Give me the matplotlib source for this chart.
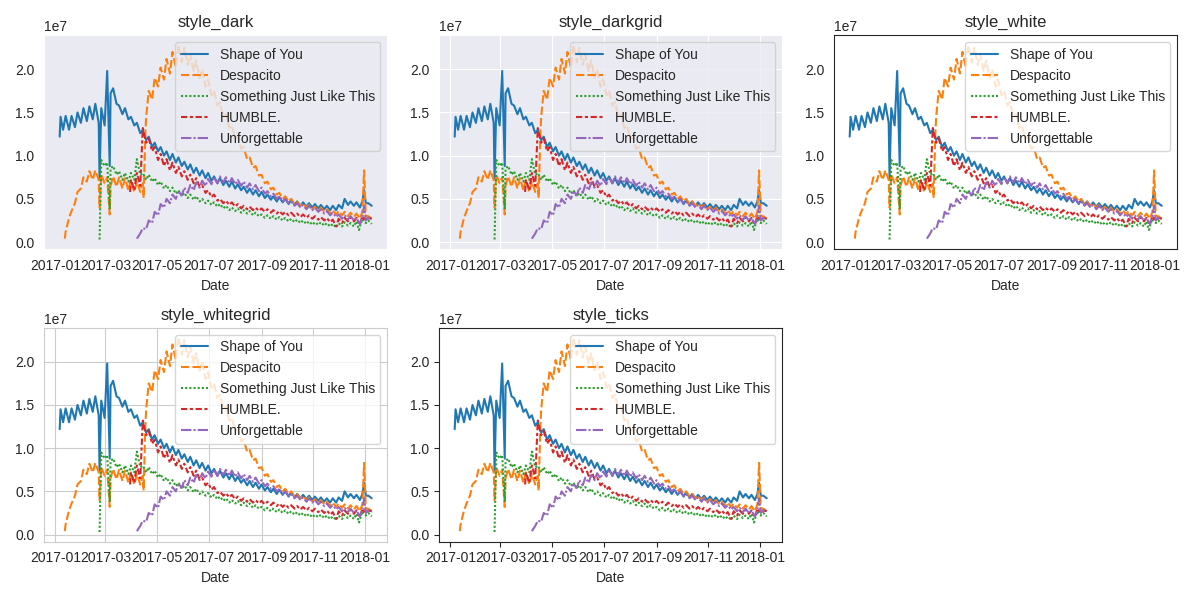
import matplotlib
matplotlib.use("Agg")
import matplotlib.pyplot as plt
import pandas as pd
import seaborn as sns

# daily streams (units of 1e7)
# weekly peaks start on the given Friday, weekly lows fall 4 days after each peak
styles = ["dark", "darkgrid", "white", "whitegrid", "ticks"]
songs = ["Shape of You", "Despacito", "Something Just Like This", "HUMBLE.", "Unforgettable"]

shape_start = "2017-01-06"
shape_highs = [1.22, 1.46, 1.46, 1.50, 1.55, 1.57, 1.60, 1.55, 1.98, 1.78, 1.58, 1.55, 1.45,
               1.38, 1.30, 1.22, 1.15, 1.10, 1.05, 1.02, 0.98, 0.93, 0.90, 0.86, 0.83, 0.80,
               0.76, 0.74, 0.71, 0.70, 0.67, 0.64, 0.62, 0.60, 0.58, 0.55, 0.53, 0.52, 0.50,
               0.49, 0.47, 0.46, 0.45, 0.44, 0.43, 0.42, 0.42, 0.43, 0.50, 0.47, 0.46, 0.47, 0.45]
shape_lows = [1.30, 1.30, 1.33, 1.38, 1.40, 1.42, 1.38, 1.35, 1.72, 1.60, 1.48, 1.42, 1.35,
              1.26, 1.18, 1.10, 1.05, 1.00, 0.95, 0.92, 0.88, 0.84, 0.80, 0.77, 0.74, 0.71,
              0.68, 0.66, 0.64, 0.62, 0.60, 0.57, 0.55, 0.53, 0.51, 0.49, 0.47, 0.46, 0.44,
              0.43, 0.42, 0.41, 0.40, 0.39, 0.38, 0.37, 0.37, 0.39, 0.43, 0.42, 0.40, 0.45, 0.42]
shape_extra = {"2017-01-07": 1.45, "2017-02-22": 0.74, "2017-03-06": 0.88, "2017-12-31": 0.60}

desp_start = "2017-01-13"
desp_highs = [0.12, 0.36, 0.58, 0.75, 0.82, 0.83, 0.78, 0.75, 0.76, 0.75, 0.74, 0.72, 0.70,
              0.68, 1.75, 1.90, 2.02, 2.12, 2.20, 2.28, 2.25, 2.18, 2.10, 2.00, 1.88, 1.75,
              1.62, 1.48, 1.35, 1.22, 1.10, 0.98, 0.88, 0.78, 0.70, 0.63, 0.57, 0.53, 0.50,
              0.47, 0.45, 0.43, 0.41, 0.40, 0.38, 0.37, 0.36, 0.35, 0.34, 0.33, 0.35, 0.30]
desp_lows = [0.28, 0.45, 0.62, 0.70, 0.72, 0.72, 0.68, 0.65, 0.64, 0.62, 0.60, 0.58, 0.58,
             1.45, 1.65, 1.80, 1.88, 1.95, 2.02, 2.08, 2.05, 1.98, 1.90, 1.80, 1.70, 1.58,
             1.45, 1.32, 1.20, 1.08, 0.96, 0.86, 0.77, 0.68, 0.61, 0.55, 0.50, 0.47, 0.44,
             0.42, 0.40, 0.38, 0.36, 0.35, 0.33, 0.32, 0.31, 0.30, 0.29, 0.27, 0.30, 0.27]
desp_extra = {"2017-01-12": 0.04, "2017-02-22": 0.40, "2017-03-06": 0.32,
              "2017-04-15": 0.51, "2017-04-17": 1.25, "2017-12-31": 0.83}

sjlt_start = "2017-02-24"
sjlt_highs = [0.95, 0.92, 0.88, 0.82, 0.80, 0.80, 0.96, 0.80, 0.78, 0.74, 0.70, 0.66, 0.63,
              0.60, 0.57, 0.55, 0.53, 0.50, 0.48, 0.46, 0.44, 0.42, 0.40, 0.39, 0.37, 0.36,
              0.34, 0.32, 0.31, 0.30, 0.29, 0.28, 0.27, 0.26, 0.25, 0.24, 0.23, 0.23, 0.22,
              0.21, 0.22, 0.23, 0.22, 0.24, 0.27, 0.25]
sjlt_lows = [0.88, 0.85, 0.78, 0.72, 0.70, 0.72, 0.78, 0.72, 0.70, 0.66, 0.62, 0.59, 0.56,
             0.53, 0.51, 0.49, 0.47, 0.45, 0.43, 0.41, 0.39, 0.37, 0.36, 0.34, 0.33, 0.31,
             0.30, 0.28, 0.27, 0.26, 0.25, 0.24, 0.23, 0.22, 0.21, 0.20, 0.20, 0.19, 0.18,
             0.17, 0.18, 0.19, 0.18, 0.18, 0.22, 0.21]
sjlt_extra = {"2017-02-22": 0.03, "2017-03-06": 0.38, "2017-12-25": 0.14}

humble_start = "2017-03-31"
humble_highs = [0.72, 0.80, 1.32, 1.20, 1.10, 1.02, 0.96, 0.92, 0.87, 0.82, 0.78, 0.74, 0.66,
                0.60, 0.55, 0.50, 0.48, 0.46, 0.44, 0.42, 0.41, 0.40, 0.39, 0.38, 0.37, 0.36,
                0.35, 0.34, 0.33, 0.32, 0.31, 0.30, 0.29, 0.28, 0.26, 0.27, 0.28, 0.29, 0.28,
                0.30, 0.28]
humble_lows = [0.60, 0.65, 1.15, 1.05, 0.95, 0.88, 0.83, 0.80, 0.76, 0.72, 0.68, 0.64, 0.57,
               0.52, 0.48, 0.45, 0.43, 0.41, 0.39, 0.38, 0.37, 0.36, 0.35, 0.34, 0.33, 0.32,
               0.31, 0.30, 0.29, 0.28, 0.27, 0.26, 0.25, 0.23, 0.18, 0.22, 0.24, 0.24, 0.20,
               0.25, 0.27]
humble_extra = {"2017-03-30": 0.58}

unf_start = "2017-04-07"
unf_highs = [0.04, 0.16, 0.25, 0.35, 0.44, 0.50, 0.55, 0.59, 0.63, 0.66, 0.69, 0.71, 0.73,
             0.75, 0.76, 0.75, 0.74, 0.72, 0.70, 0.68, 0.66, 0.63, 0.59, 0.56, 0.53, 0.50,
             0.47, 0.45, 0.43, 0.42, 0.40, 0.38, 0.36, 0.34, 0.32, 0.31, 0.30, 0.28, 0.29,
             0.28]
unf_lows = [0.10, 0.15, 0.22, 0.31, 0.40, 0.45, 0.50, 0.54, 0.57, 0.60, 0.63, 0.65, 0.67,
            0.68, 0.69, 0.68, 0.67, 0.65, 0.63, 0.61, 0.59, 0.56, 0.53, 0.50, 0.47, 0.45,
            0.42, 0.40, 0.38, 0.37, 0.35, 0.33, 0.31, 0.29, 0.27, 0.26, 0.25, 0.21, 0.25,
            0.27]
unf_extra = {"2017-12-31": 0.42}


def build(start, highs, lows, extra):
    peak_days = pd.date_range(start, periods=len(highs), freq="7D")
    s = pd.concat([
        pd.Series(highs, index=peak_days),
        pd.Series(lows, index=peak_days + pd.Timedelta(days=4)),
        pd.Series(list(extra.values()), index=pd.to_datetime(list(extra.keys()))),
    ])
    return s.sort_index() * 1e7


series = [
    build(shape_start, shape_highs, shape_lows, shape_extra),
    build(desp_start, desp_highs, desp_lows, desp_extra),
    build(sjlt_start, sjlt_highs, sjlt_lows, sjlt_extra),
    build(humble_start, humble_highs, humble_lows, humble_extra),
    build(unf_start, unf_highs, unf_lows, unf_extra),
]
dashes = [(), (4, 1.5), (1, 1), (3, 1.25, 1.5, 1.25), (5, 1, 1, 1)]
colors = sns.color_palette()[:5]

# Arial stand-in; fonts get resolved at draw time, so set it globally too
font_rc = {"font.sans-serif": ["Liberation Sans", "DejaVu Sans"]}
plt.rcParams["font.family"] = ["sans-serif"]
plt.rcParams.update(font_rc)

fig = plt.figure(figsize=(12, 6), dpi=100)
for i, style in enumerate(styles):
    with sns.axes_style(style, rc=font_rc):
        ax = fig.add_subplot(2, 3, i + 1)
        for s, name, d, c in zip(series, songs, dashes, colors):
            line, = ax.plot(s.index, s.values, color=c, lw=1.5, label=name)
            if d:
                line.set_dashes(d)
        ax.set_title(f"style_{style}", fontsize=12)
        ax.set_xlabel("Date")
        ax.legend(loc="upper right")

plt.tight_layout()
plt.savefig("out.png")
